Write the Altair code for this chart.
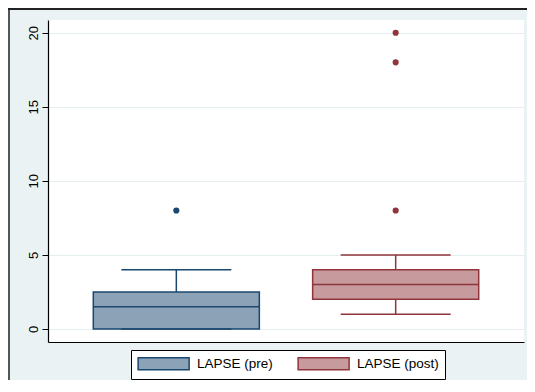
import altair as alt
import pandas as pd

# ---- data ----
groups = ["LAPSE (pre)", "LAPSE (post)"]
q1 = [0.0, 2.0]
median = [1.5, 3.0]
q3 = [2.5, 4.0]
lower = [0.0, 1.0]
upper = [4.0, 5.0]

outlier_group = ["LAPSE (pre)", "LAPSE (post)", "LAPSE (post)", "LAPSE (post)"]
outlier_value = [8, 8, 18, 20]

y_ticks = [0, 5, 10, 15, 20]

fill_colors = ["#8ca3b7", "#c79a9d"]
line_colors = ["#1a476f", "#90353b"]

stats = pd.DataFrame({"group": groups, "q1": q1, "med": median, "q3": q3,
                      "lo": lower, "hi": upper})
outs = pd.DataFrame({"group": outlier_group, "value": outlier_value})

FONT = "Liberation Sans"

xscale = alt.Scale(domain=groups, paddingInner=0, paddingOuter=0.085)
x_enc = alt.X("group:N", sort=groups, scale=xscale,
              axis=alt.Axis(labels=False, ticks=False, title=None, grid=False,
                            domainColor="black", domainWidth=1.2))
yscale = alt.Scale(domain=[-0.88, 20.86], nice=False, zero=False)
y_axis = alt.Axis(values=y_ticks, labelAngle=270, labelAlign="center",
                  labelBaseline="alphabetic", labelPadding=5, tickSize=6,
                  tickColor="black", domainColor="black", domainWidth=1.2,
                  gridColor="#e4edf0", labelFont=FONT, labelFontSize=13,
                  labelColor="black", title=None)

# line colour scale (domain listed in reverse so it stays apart from the legend scales)
dark = alt.Color("group:N",
                 scale=alt.Scale(domain=groups[::-1], range=line_colors[::-1]),
                 legend=None)

base = alt.Chart(stats)

whisk_hi = base.mark_rule(strokeWidth=1.5).encode(
    x=x_enc, y=alt.Y("q3:Q", scale=yscale, axis=y_axis), y2="hi:Q", color=dark)
whisk_lo = base.mark_rule(strokeWidth=1.5).encode(
    x=x_enc, y=alt.Y("lo:Q", scale=yscale), y2="q1:Q", color=dark)

# wide key rectangle: path drawn right of the nominal symbol slot
legend = alt.Legend(title=None, orient="none", legendX=83, legendY=330,
                    direction="horizontal", columns=2,
                    symbolType="M-1,-0.94H7V0.94H-1Z", symbolSize=162.5,
                    symbolStrokeWidth=1.5, symbolOpacity=1,
                    labelFont=FONT, labelFontSize=13.5, labelColor="black",
                    labelOffset=45, columnPadding=22, padding=6,
                    strokeColor="black", fillColor="white", labelLimit=200)

box = base.mark_bar(width=alt.RelativeBandSize(0.757), strokeWidth=1.5, opacity=1).encode(
    x=x_enc, y=alt.Y("q1:Q", scale=yscale), y2="q3:Q",
    fill=alt.Fill("group:N", scale=alt.Scale(domain=groups, range=fill_colors), legend=legend),
    stroke=alt.Stroke("group:N", scale=alt.Scale(domain=groups, range=line_colors), legend=legend))

med = base.mark_tick(size=166, thickness=1.5, opacity=1).encode(
    x=x_enc, y=alt.Y("med:Q", scale=yscale), color=dark)
cap_hi = base.mark_tick(size=110, thickness=1.5, opacity=1).encode(
    x=x_enc, y=alt.Y("hi:Q", scale=yscale), color=dark)
cap_lo = base.mark_tick(size=110, thickness=1.5, opacity=1).encode(
    x=x_enc, y=alt.Y("lo:Q", scale=yscale), color=dark)

pts = alt.Chart(outs).mark_circle(size=38, opacity=1).encode(
    x=x_enc, y=alt.Y("value:Q", scale=yscale), color=dark)

frame = alt.Data(values=[{"k": 1}])
border_top = alt.Chart(frame).mark_rule(color="#222222", strokeWidth=2).encode(
    x=alt.value(-40), x2=alt.value(480), y=alt.value(-11))
border_left = alt.Chart(frame).mark_rule(color="#222222", strokeWidth=1.5).encode(
    x=alt.value(-39), y=alt.value(-12), y2=alt.value(362))

chart = alt.layer(whisk_hi, whisk_lo, box, med, cap_hi, cap_lo, pts,
                  border_top, border_left).properties(
    width=476, height=322,
    autosize=alt.AutoSizeParams(type="none"),
    padding={"left": 40, "top": 12, "right": 3, "bottom": 38},
    background="#eaf2f3",
).configure_view(fill="white", strokeWidth=0)

chart.save("out.html", embed_options={"renderer": "svg", "actions": False})
